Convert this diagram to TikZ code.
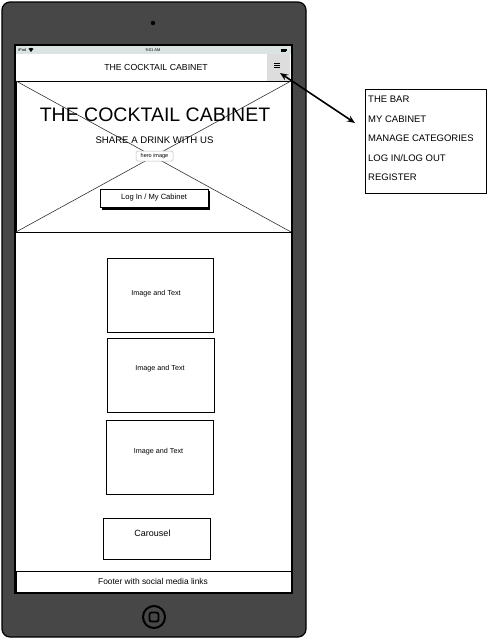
\documentclass[tikz,border=0pt]{standalone}
\usepackage{fontspec}
\setmainfont{Liberation Sans}
\usetikzlibrary{arrows.meta}
\definecolor{bezel}{HTML}{474747}
\definecolor{statusgray}{HTML}{DCE3E3}
\definecolor{navbtn}{HTML}{DDDDDD}
\definecolor{tagline}{HTML}{BBBBBB}

\begin{document}
\begin{tikzpicture}[x=1pt,y=-1pt,
  fs/.style={font=\fontsize{#1}{#1}\selectfont},
  panel/.style={draw=black, line width=1pt, fill=white, inner sep=0pt, outer sep=0pt},
  card/.style={panel, minimum width=#1},
  label/.style={inner sep=0pt},
  menuitem/.style={label, anchor=west, fs=9.5},
  link/.style={line width=1.6pt, {Stealth[length=8pt,width=6.5pt]}-{Stealth[length=8pt,width=6.5pt]}}]
\useasboundingbox (0,0) rectangle (487,640);

% tablet body, camera and screen
\draw[fill=bezel, line width=1.2pt, rounded corners=8pt] (2,2) rectangle (306,637);
\fill (153,23) circle (2.2);
\node[draw=black, line width=2pt, fill=white, minimum width=277, minimum height=548, inner sep=0pt, outer sep=0pt] (screen) at (153.5,319) {};

% status bar
\fill[statusgray] (16,46) rectangle (291,54);
\node[label, anchor=west, fs=4] (carrier) at (18,50) {iPod};
\fill (31,52) -- +(-127:4.2) arc[start angle=-127, end angle=-53, radius=4.2] -- cycle;
\node[label, fs=4] (clock) at (153,50) {9:01 AM};
\fill (281,48.5) rectangle (286,51.5);
\fill (286,49.3) rectangle (287,50.7);

% navigation bar
\node[label, fs=8.75] (navtitle) at (156,67) {THE COCKTAIL CABINET};
\node[fill=navbtn, minimum width=23, minimum height=27, inner sep=0pt, outer sep=0pt] (menubtn) at (278.5,67.5) {};
\foreach \yy in {63.5,65.7,67.9}
  \draw[line width=0.9pt] (274.2,\yy) -- (279.8,\yy);

% hero section
\node[panel, fill=none, minimum width=275, minimum height=151] (hero) at (153.5,156.5) {};
\draw[line width=0.6pt, black!80] (hero.north west) -- (hero.south east);
\draw[line width=0.6pt, black!80] (hero.north east) -- (hero.south west);
\node[label, fs=19.5] (herotitle) at (155,115) {THE COCKTAIL CABINET};
\node[label, fs=9.6] (herosub) at (154.5,140) {SHARE A DRINK WITH US};
\node[draw=tagline, line width=0.5pt, fill=white, rounded corners=1.5pt, inner sep=0pt, minimum width=37, minimum height=10, fs=5.5] (herotag) at (154.5,156) {hero image};
\fill (102,191) rectangle (210,209.5);
\node[panel, minimum width=108, minimum height=18, fs=7.6] (login) at (154,198) {Log In / My Cabinet};

% content cards
\node[card=106, minimum height=74] (card1) at (160,295) {};
\node[label, fs=7.2] (card1txt) at (156,293.5) {Image and Text};
\node[card=107, minimum height=74] (card2) at (160.5,375.5) {};
\node[label, fs=7.2] (card2txt) at (160,369) {Image and Text};
\node[card=107, minimum height=74] (card3) at (159.5,457) {};
\node[label, fs=7.2] (card3txt) at (158.5,452) {Image and Text};
\node[card=107, minimum height=41] (carousel) at (156.5,538.5) {};
\node[label, fs=9] (carouseltxt) at (152.5,533.5) {Carousel};

% footer
\node[panel, minimum width=275, minimum height=21] (footer) at (153.5,582) {};
\node[label, fs=8.4] (footertxt) at (153,581.5) {Footer with social media links};

% home button
\draw[line width=2pt] (154,617) circle (11);
\draw[line width=1.8pt, rounded corners=2pt] (149.5,612.5) rectangle (158.5,621.5);

% dropdown menu
\node[panel, minimum width=121, minimum height=104] (menu) at (425.5,141) {};
\node[menuitem] (m1) at (368,99) {THE BAR};
\node[menuitem] (m2) at (368,119) {MY CABINET};
\node[menuitem] (m3) at (368,138.5) {MANAGE CATEGORIES};
\node[menuitem] (m4) at (368,158) {LOG IN/LOG OUT};
\node[menuitem] (m5) at (368,177.5) {REGISTER};

% link between menu button and menu
\coordinate (btntip) at (280,73);
\coordinate (menutip) at (355,123);
\draw[link] (btntip) -- (menutip);
\end{tikzpicture}
\end{document}
